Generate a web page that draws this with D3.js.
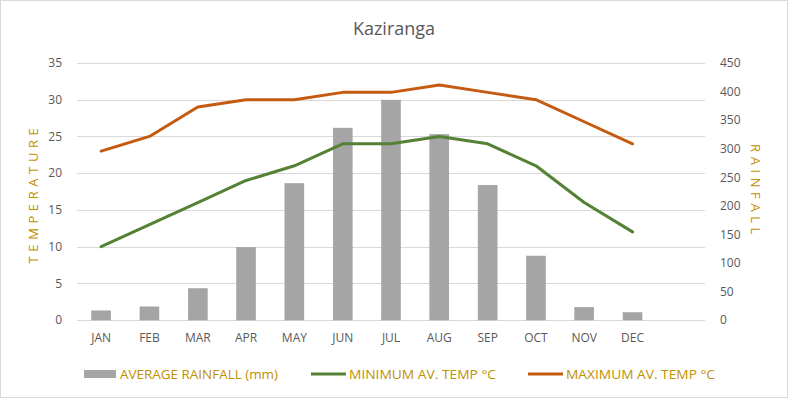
<!DOCTYPE html>
<html>
<head>
<meta charset="utf-8">
<script src="https://cdn.jsdelivr.net/npm/d3@7"></script>
<style>
  body { margin: 0; background: #fff; }
  text { font-family: "Open Sans", "Liberation Sans", sans-serif; }
</style>
</head>
<body>
<div id="box"></div>
<script>
// months (plus one empty slot at the end, as in the original chart)
var months = ["JAN","FEB","MAR","APR","MAY","JUN","JUL","AUG","SEP","OCT","NOV","DEC"];
var slots = months.concat([""]);
var rainfall = [16, 23, 55, 127, 239, 336, 385, 325, 236, 112, 22, 13];
var minTemp = [10, 13, 16, 19, 21, 24, 24, 25, 24, 21, 16, 12];
var maxTemp = [23, 25, 29, 30, 30, 31, 31, 32, 31, 30, 27, 24];
var tempTicks = [0, 5, 10, 15, 20, 25, 30, 35];
var rainTicks = [0, 50, 100, 150, 200, 250, 300, 350, 400, 450];

var W = 790, H = 399;
var plotLeft = 77, plotRight = 705, plotTop = 63, plotBottom = 320;
var grey = "#595959", gold = "#BF9000";

var svg = d3.select("#box").append("svg")
    .attr("width", W)
    .attr("height", H);

//chart border
svg.append("rect")
   .attr("x", 0.5).attr("y", 0.5)
   .attr("width", W - 3).attr("height", H - 2)
   .style("fill", "#fff")
   .style("stroke", "#d9d9d9");

var x = d3.scaleBand().domain(slots).range([plotLeft, plotRight]);
var yT = d3.scaleLinear().domain([0, 35]).range([plotBottom, plotTop]);
var yR = d3.scaleLinear().domain([0, 450]).range([plotBottom, plotTop]);

//gridlines
svg.append("g").selectAll("line")
   .data(tempTicks)
   .enter().append("line")
   .attr("x1", plotLeft).attr("x2", plotRight)
   .attr("y1", function(d){ return Math.round(yT(d)) + 0.5; })
   .attr("y2", function(d){ return Math.round(yT(d)) + 0.5; })
   .style("stroke", "#d9d9d9")
   .style("stroke-width", 1);

//left axis
var axL = svg.append("g")
   .attr("transform", "translate(" + (plotLeft - 15) + ",0)")
   .call(d3.axisLeft(yT).tickValues(tempTicks).tickSize(0).tickPadding(0));
axL.select(".domain").remove();

//right axis
var axR = svg.append("g")
   .attr("transform", "translate(" + (plotRight + 15) + ",0)")
   .call(d3.axisRight(yR).tickValues(rainTicks).tickSize(0).tickPadding(0));
axR.select(".domain").remove();

//bottom axis
var axB = svg.append("g")
   .attr("transform", "translate(0," + (plotBottom + 13) + ")")
   .call(d3.axisBottom(x).tickSize(0).tickPadding(0));
axB.select(".domain").remove();

svg.selectAll(".tick text")
   .style("font-family", "'Open Sans', sans-serif")
   .style("font-size", "12px")
   .style("fill", grey);

//bars
svg.append("g").selectAll("rect")
   .data(rainfall)
   .enter().append("rect")
   .attr("x", function(d, i){ return x(months[i]) + x.bandwidth()/2 - 9.5; })
   .attr("width", 19)
   .attr("y", function(d){ return yR(d); })
   .attr("height", function(d){ return plotBottom - yR(d); })
   .style("fill", "#a5a5a5")
   .style("stroke", "#9a9a9a")
   .style("stroke-width", 0.5);

//lines
var line = function(scale) {
    return d3.line()
       .x(function(d, i){ return x(months[i]) + x.bandwidth()/2; })
       .y(function(d){ return scale(d); });
};
svg.append("path").datum(maxTemp)
   .attr("d", line(yT))
   .style("fill", "none").style("stroke", "#C55A11")
   .style("stroke-width", 3).style("stroke-linejoin", "round").style("stroke-linecap", "round");
svg.append("path").datum(minTemp)
   .attr("d", line(yT))
   .style("fill", "none").style("stroke", "#548235")
   .style("stroke-width", 3).style("stroke-linejoin", "round").style("stroke-linecap", "round");

//title
svg.append("text")
   .attr("x", 394).attr("y", 35)
   .attr("text-anchor", "middle")
   .style("font-size", "18px")
   .style("fill", grey)
   .text("Kaziranga");

//axis titles
svg.append("text")
   .attr("transform", "translate(38," + ((plotTop + plotBottom)/2 + 2) + ") rotate(-90)")
   .attr("text-anchor", "middle")
   .style("font-size", "13px")
   .style("letter-spacing", "4.6px")
   .style("fill", gold)
   .text("TEMPERATURE");
svg.append("text")
   .attr("transform", "translate(751," + ((plotTop + plotBottom)/2) + ") rotate(90)")
   .attr("text-anchor", "middle")
   .style("font-size", "13px")
   .style("letter-spacing", "4.6px")
   .style("fill", gold)
   .text("RAINFALL");

//legend
var legend = svg.append("g");
legend.append("rect")
   .attr("x", 84).attr("y", 370).attr("width", 32).attr("height", 8)
   .style("fill", "#a5a5a5");
legend.append("line")
   .attr("x1", 311).attr("x2", 346).attr("y1", 374).attr("y2", 374)
   .style("stroke", "#548235").style("stroke-width", 3);
legend.append("line")
   .attr("x1", 528).attr("x2", 563).attr("y1", 374).attr("y2", 374)
   .style("stroke", "#C55A11").style("stroke-width", 3);
var legendItems = [["AVERAGE RAINFALL (mm)", 120, 158], ["MINIMUM AV. TEMP °C", 349, 147], ["MAXIMUM AV. TEMP °C", 566, 149]];
legend.selectAll("text.lg")
   .data(legendItems)
   .enter().append("text")
   .attr("class", "lg")
   .attr("x", function(d){ return d[1]; })
   .attr("y", 379)
   .attr("textLength", function(d){ return d[2]; })
   .attr("lengthAdjust", "spacingAndGlyphs")
   .style("font-size", "13px")
   .style("fill", gold)
   .text(function(d){ return d[0]; });
</script>
</body>
</html>
